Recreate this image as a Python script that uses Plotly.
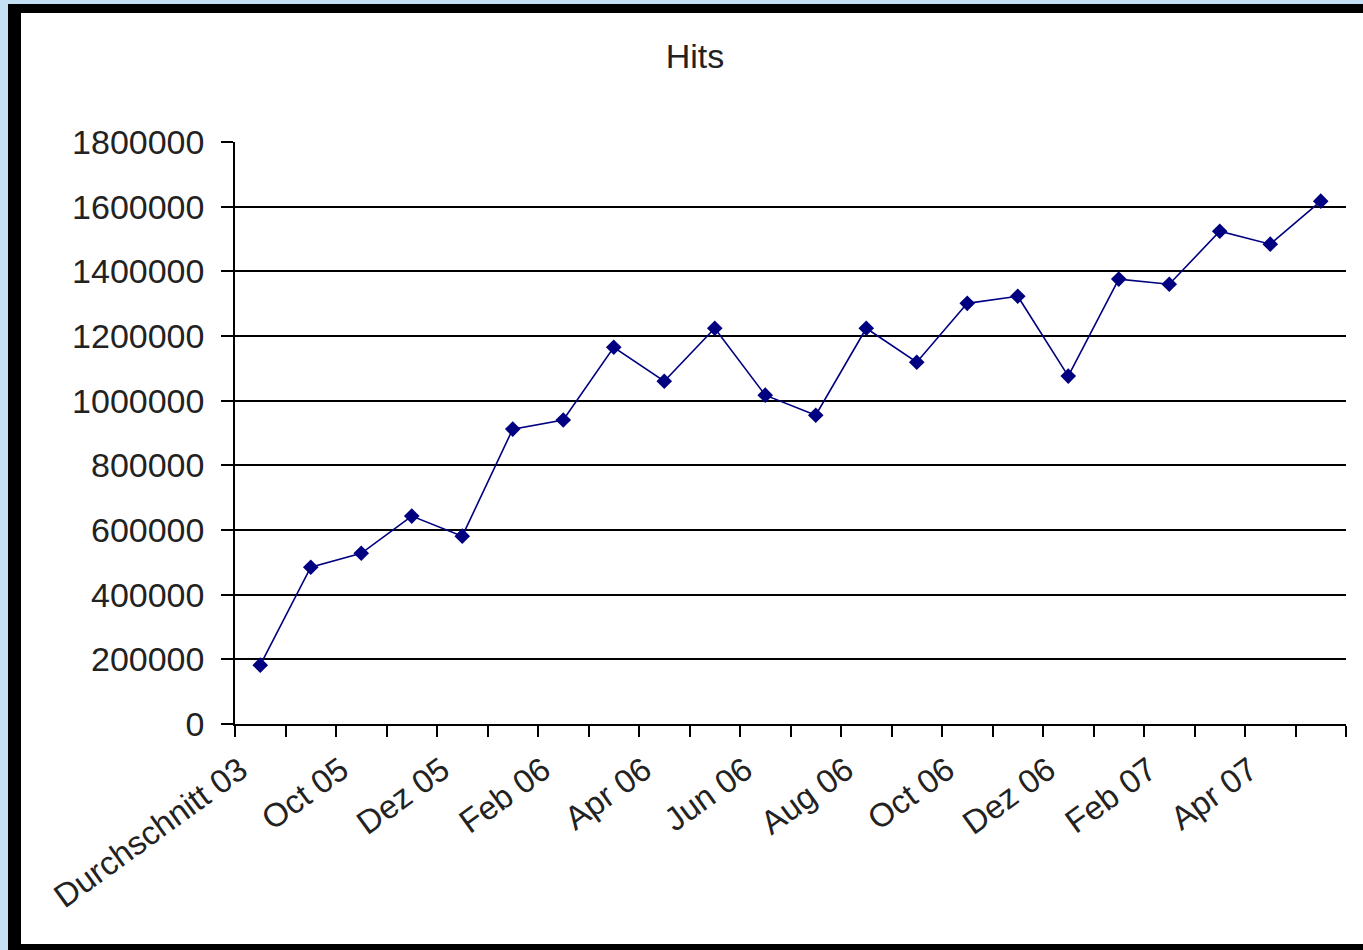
import plotly.graph_objects as go

categories = ["Durchschnitt 03", "Sep 05", "Oct 05", "Nov 05", "Dez 05", "Jan 06", "Feb 06",
              "Mar 06", "Apr 06", "Mai 06", "Jun 06", "Jul 06", "Aug 06", "Sep 06", "Oct 06",
              "Nov 06", "Dez 06", "Jan 07", "Feb 07", "Mar 07", "Apr 07", "Mai 07"]
hits = [182000, 485000, 528000, 643000, 581000, 912000, 940000, 1165000, 1060000, 1224000,
        1017000, 955000, 1224000, 1119000, 1301000, 1323000, 1076000, 1376000, 1360000,
        1524000, 1484000, 1617000]
shown_labels = ["Durchschnitt 03", "Oct 05", "Dez 05", "Feb 06", "Apr 06", "Jun 06",
                "Aug 06", "Oct 06", "Dez 06", "Feb 07", "Apr 07"]
y_ticks = [0, 200000, 400000, 600000, 800000, 1000000, 1200000, 1400000, 1600000, 1800000]
grid_vals = [200000, 400000, 600000, 800000, 1000000, 1200000, 1400000, 1600000]

W, H = 1363, 950
L, R, T, B = 235, 17, 142, 226
pw, ph = W - L - R, H - T - B

def px_x(p):
    return (p - L) / pw

def px_y(p):
    return (H - B - p) / ph

fig = go.Figure()
fig.add_trace(go.Scatter(
    x=categories, y=hits, mode="lines+markers",
    line=dict(color="#000080", width=1.6),
    marker=dict(symbol="diamond", size=12, color="#000080"),
    showlegend=False, hoverinfo="x+y"))

font = "Liberation Sans, Arial, sans-serif"
txt = "#222222"
fig.update_layout(
    width=W, height=H,
    margin=dict(l=L, r=R, t=T, b=B, autoexpand=False),
    paper_bgcolor="#C4E0F4",
    plot_bgcolor="white",
    font=dict(family=font, size=33, color=txt),
    title=dict(text="Hits", x=695 / W, xref="container", xanchor="center",
               y=1 - 56 / H, yref="container", yanchor="middle",
               font=dict(size=34, color=txt)),
    shapes=[
        dict(type="rect", xref="paper", yref="paper", layer="below",
             x0=px_x(8), x1=px_x(1400), y0=px_y(960), y1=px_y(4),
             fillcolor="black", line=dict(width=0)),
        dict(type="rect", xref="paper", yref="paper", layer="below",
             x0=px_x(21), x1=px_x(1400), y0=px_y(944), y1=px_y(13),
             fillcolor="white", line=dict(width=0)),
    ],
)
fig.update_xaxes(
    type="category",
    tickvals=categories,
    ticktext=[c if c in shown_labels else "" for c in categories],
    tickson="boundaries", ticks="outside", ticklen=11, tickwidth=1.5, tickcolor="black",
    tickangle=-36,
    showline=True, linecolor="black", linewidth=1.5,
    showgrid=False, zeroline=False,
    tickfont=dict(size=33, color=txt),
    ticklabelshift=-20, ticklabelstandoff=12,
    range=[-0.5, len(categories) - 0.5],
)
fig.update_yaxes(
    range=[0, 1800000],
    tickvals=y_ticks, ticktext=[str(v) for v in y_ticks],
    ticks="outside", ticklen=12, tickwidth=1.5, tickcolor="black",
    showline=True, linecolor="black", linewidth=1.5,
    showgrid=False, zeroline=False,
    minor=dict(tickvals=grid_vals, showgrid=True, gridcolor="black", gridwidth=1.5, ticks=""),
    tickfont=dict(size=34, color=txt),
    ticklabelstandoff=10,
)
fig.write_html("out.html")
